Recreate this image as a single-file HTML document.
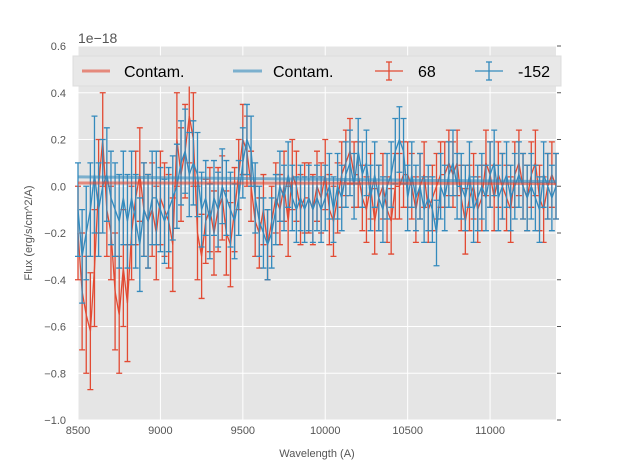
<!DOCTYPE html>
<html><head><meta charset="utf-8">
<style>
body{margin:0;background:#fff;}
svg{display:block;font-family:"Liberation Sans",sans-serif;}
</style></head>
<body>
<svg id="chart" width="617" height="467">
  <rect x="78" y="46" width="478" height="374" fill="#e5e5e5"/>
  <g id="grid"></g>
  <g id="series"></g>
  <g id="axes"></g>
  <text x="78" y="43" font-size="14" fill="#555">1e−18</text>
  <text x="317" y="457" font-size="11" fill="#555" text-anchor="middle">Wavelength (A)</text>
  <text x="32" y="233" font-size="11" fill="#555" text-anchor="middle" transform="rotate(-90 32 233)">Flux (erg/s/cm^2/A)</text>
  <g>
    <rect x="73" y="56" width="488" height="30" fill="#e8e8e8" stroke="#ddd"/>
    <g>
      <line x1="82" y1="71" x2="110" y2="71" stroke="#E24A33" stroke-width="3" stroke-opacity="0.6"/>
      <text x="124" y="77" font-size="16" fill="#000">Contam.</text>
    </g>
    <g>
      <line x1="233" y1="71" x2="262" y2="71" stroke="#348ABD" stroke-width="3" stroke-opacity="0.6"/>
      <text x="273" y="77" font-size="16" fill="#000">Contam.</text>
    </g>
    <g stroke="#E24A33" stroke-width="1.3">
      <line x1="375" y1="71" x2="403" y2="71"/><line x1="389" y1="62" x2="389" y2="80"/>
      <line x1="386" y1="62" x2="392" y2="62"/><line x1="386" y1="80" x2="392" y2="80"/>
      <text x="418" y="77" font-size="16" fill="#000" stroke="none">68</text>
    </g>
    <g stroke="#348ABD" stroke-width="1.3">
      <line x1="475" y1="71" x2="503" y2="71"/><line x1="489" y1="62" x2="489" y2="80"/>
      <line x1="486" y1="62" x2="492" y2="62"/><line x1="486" y1="80" x2="492" y2="80"/>
      <text x="518" y="77" font-size="16" fill="#000" stroke="none">-152</text>
    </g>
  </g>
</svg>
<script>
const xTicks=[8500,9000,9500,10000,10500,11000];
const yTicks=[0.6,0.4,0.2,0.0,-0.2,-0.4,-0.6,-0.8,-1.0];
const yTickLabels=["0.6","0.4","0.2","0.0","−0.2","−0.4","−0.6","−0.8","−1.0"];
const wave0=8500, waveStep=25;
const flux68=[-0.2,-0.45,-0.55,-0.62,-0.35,0.0,0.2,-0.1,-0.2,-0.45,-0.55,-0.35,-0.5,-0.2,-0.05,0.05,-0.1,-0.15,-0.1,-0.2,-0.05,-0.1,-0.15,-0.25,0.2,0.05,0.15,0.3,0.2,-0.2,-0.3,-0.15,-0.1,-0.2,-0.1,-0.05,-0.2,-0.25,-0.1,0.05,0.2,0.15,0.0,-0.15,-0.2,-0.1,-0.25,-0.15,-0.05,-0.1,0.0,-0.15,0.05,0.0,-0.1,-0.05,-0.05,-0.1,0.0,-0.05,0.05,-0.1,-0.15,-0.05,0.05,0.1,0.15,0.05,0.05,-0.05,-0.1,0.0,-0.15,-0.05,0.0,-0.1,-0.15,0.0,0.0,0.05,0.05,0.0,-0.1,0.0,0.05,-0.1,-0.05,0.0,0.05,0.05,0.1,0.05,0.1,-0.05,-0.15,-0.05,0.0,-0.1,-0.05,0.1,0.05,-0.05,0.05,0.0,-0.05,-0.1,0.05,0.1,0.0,-0.05,0.05,0.1,-0.05,-0.1,0.0,0.05,0.0];
const err68=[0.2,0.25,0.25,0.25,0.25,0.2,0.2,0.2,0.2,0.25,0.25,0.25,0.25,0.2,0.2,0.2,0.2,0.2,0.2,0.2,0.2,0.2,0.2,0.2,0.2,0.2,0.2,0.2,0.2,0.2,0.18,0.18,0.18,0.18,0.18,0.18,0.18,0.18,0.18,0.15,0.15,0.15,0.15,0.15,0.15,0.15,0.15,0.15,0.15,0.15,0.15,0.15,0.15,0.15,0.15,0.15,0.15,0.15,0.15,0.15,0.15,0.15,0.15,0.15,0.14,0.14,0.14,0.14,0.14,0.14,0.14,0.14,0.14,0.14,0.14,0.14,0.14,0.14,0.14,0.14,0.14,0.14,0.14,0.14,0.14,0.14,0.14,0.14,0.14,0.14,0.14,0.14,0.14,0.14,0.14,0.14,0.14,0.14,0.14,0.14,0.14,0.14,0.14,0.14,0.14,0.14,0.14,0.14,0.14,0.14,0.14,0.14,0.14,0.14,0.14,0.14,0.14];
const flux152=[-0.1,-0.3,-0.2,-0.1,0.05,-0.1,0.0,0.05,-0.05,-0.1,-0.15,-0.05,-0.15,-0.05,-0.15,-0.25,-0.1,-0.15,-0.05,-0.05,-0.1,-0.15,-0.1,-0.05,0.0,0.1,0.15,0.05,0.1,0.05,-0.1,-0.05,-0.15,-0.05,-0.1,0.0,-0.05,-0.1,-0.15,-0.05,0.1,0.2,0.15,-0.05,-0.15,-0.2,-0.25,-0.2,-0.1,0.0,-0.05,0.05,-0.05,-0.1,-0.05,-0.1,-0.05,-0.1,-0.05,-0.1,-0.05,0.0,-0.1,0.0,-0.05,0.05,0.1,0.0,0.15,0.05,0.1,-0.05,0.05,-0.05,-0.1,0.0,0.05,0.15,0.2,0.15,-0.05,0.05,-0.05,0.0,-0.1,-0.05,-0.1,-0.2,0.0,-0.05,0.05,0.1,0.0,0.0,-0.05,0.05,-0.1,-0.05,0.0,-0.05,0.05,0.1,-0.05,0.0,0.05,-0.05,0.0,0.05,0.0,-0.05,0.0,-0.05,-0.1,0.05,0.0,-0.05,0.0];
const err152=[0.2,0.2,0.2,0.2,0.25,0.2,0.2,0.2,0.2,0.2,0.2,0.2,0.2,0.2,0.2,0.2,0.2,0.2,0.2,0.2,0.18,0.18,0.18,0.18,0.18,0.18,0.18,0.18,0.18,0.18,0.16,0.16,0.16,0.16,0.16,0.16,0.16,0.16,0.16,0.16,0.15,0.15,0.15,0.15,0.15,0.15,0.15,0.15,0.15,0.15,0.14,0.14,0.14,0.14,0.14,0.14,0.14,0.14,0.14,0.14,0.14,0.14,0.14,0.14,0.14,0.14,0.14,0.14,0.14,0.14,0.14,0.14,0.14,0.14,0.14,0.14,0.14,0.14,0.14,0.14,0.14,0.14,0.14,0.14,0.14,0.14,0.14,0.14,0.14,0.14,0.14,0.14,0.14,0.14,0.14,0.14,0.14,0.14,0.14,0.14,0.14,0.14,0.14,0.14,0.14,0.14,0.14,0.14,0.14,0.14,0.14,0.14,0.14,0.14,0.14,0.14,0.14];
const contam68=[0.014,0.012];
const contam152=[0.04,0.02];
const xMin=8500,xMax=11400,yMin=-1.0,yMax=0.6;
const L=78,R=556,T=46,B=420;
const NS="http://www.w3.org/2000/svg";
function sx(v){return L+(v-xMin)/(xMax-xMin)*(R-L);}
function sy(v){return B-(v-yMin)/(yMax-yMin)*(B-T);}
function mk(tag,attrs,parent){const e=document.createElementNS(NS,tag);for(const k in attrs)e.setAttribute(k,attrs[k]);parent.appendChild(e);return e;}
const grid=document.getElementById('grid'),axes=document.getElementById('axes'),ser=document.getElementById('series');
xTicks.forEach(t=>{
  const g=mk('line',{x1:sx(t),x2:sx(t),y1:T,y2:B,stroke:'#fff','stroke-width':1},grid);
  
  
  const l=mk('text',{x:sx(t),y:B+14,'font-size':11,fill:'#555','text-anchor':'middle'},axes);
  l.textContent=t;
  
  
});
yTicks.forEach((t,i)=>{
  const g=mk('line',{x1:L,x2:R,y1:sy(t),y2:sy(t),stroke:'#fff','stroke-width':1},grid);
  
  
  const m=mk('line',{x1:R+1,x2:R+5,y1:sy(t),y2:sy(t),stroke:'#555','stroke-width':1},axes);
  
  
  const l=mk('text',{x:L-12,y:sy(t)+4,'font-size':11,fill:'#555','text-anchor':'end'},axes);
  l.textContent=yTickLabels[i];
  
  
});
function drawContam(vals,color,name){
  const c=mk('line',{x1:sx(xMin),x2:sx(xMax),y1:sy(vals[0]),y2:sy(vals[1]),stroke:color,'stroke-width':3,'stroke-opacity':0.6},ser);
  
  
}
function drawSeries(vals,errs,color,name){
  const g=mk('g',{stroke:color,'stroke-width':1.3,fill:'none'},ser);
  
  
  let d='';
  vals.forEach((v,i)=>{
    const x=sx(wave0+i*waveStep),y=sy(v),y1=sy(v+errs[i]),y2=sy(v-errs[i]);
    d+=(i?'L':'M')+x.toFixed(1)+','+y.toFixed(1);
    const e=mk('path',{d:`M${x},${y1}V${y2}M${x-3},${y1}H${x+3}M${x-3},${y2}H${x+3}`},g);
    
    
  });
  const p=mk('path',{d:d},g);
  
  
}
drawSeries(flux68,err68,'#E24A33','series-68');
drawSeries(flux152,err152,'#348ABD','series-minus152');
drawContam(contam68,'#E24A33','contam-line-68');
drawContam(contam152,'#348ABD','contam-line-minus152');
</script>
</body></html>
